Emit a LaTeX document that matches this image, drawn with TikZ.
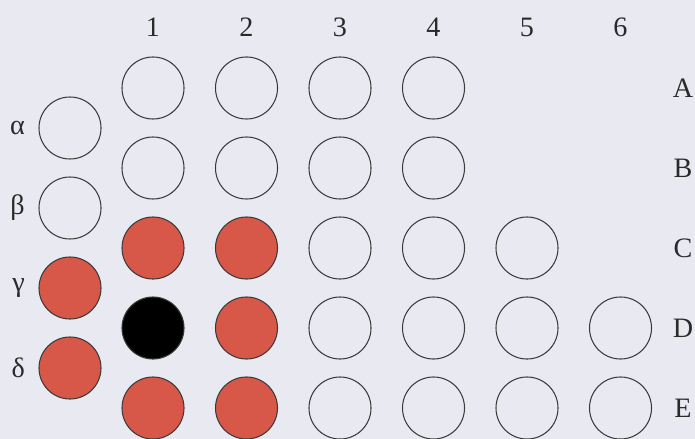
\documentclass[tikz,border=0pt]{standalone}
\usepackage{fontspec}
\setmainfont{Liberation Serif}
\usepackage{tikz}
\usetikzlibrary{positioning}
\definecolor{plate}{HTML}{E9E9F1}
\definecolor{hit}{HTML}{D75848}
\definecolor{rim}{HTML}{3A3A3A}
\definecolor{ink}{HTML}{2A2A2A}
\tikzset{
  well/.style={circle,draw=rim,line width=0.75pt,minimum size=1.55cm,inner sep=0pt},
  lbl/.style={font=\fontsize{20}{22}\selectfont,text=ink,inner sep=1pt},
}

\begin{document}
\begin{tikzpicture}[x=0.025cm,y=-0.025cm]
  \fill[plate](0,0)rectangle(695,439);
  \useasboundingbox(0,0)rectangle(695,439);
  \foreach \c in {1,...,6}{
    \node[lbl](col\c)at({153+(\c-1)*93.5},27){\c};
  }
  \foreach \r/\row/\fills in {
    1/A/{none,none,none,none},
    2/B/{none,none,none,none},
    3/C/{hit,hit,none,none,none},
    4/D/{black,hit,none,none,none,none},
    5/E/{hit,hit,none,none,none,none}%
  }{
    \foreach \fc [count=\c] in \fills{
      \node[well,fill=\fc](\row\c)at({153+(\c-1)*93.5},{88+(\r-1)*80}){};
    }
    \node[lbl](row\row)at(683,{88+(\r-1)*80}){\row};
  }
  \foreach \g/\txt/\y/\fc in {
    alpha/α/128/none, beta/β/208/none, gamma/γ/288/hit, delta/δ/368/hit%
  }{
    \node[well,fill=\fc](\g)at(70,\y){};
    \node[lbl,left=0.3cm of \g](lbl\g){\txt};
  }
\end{tikzpicture}
\end{document}
